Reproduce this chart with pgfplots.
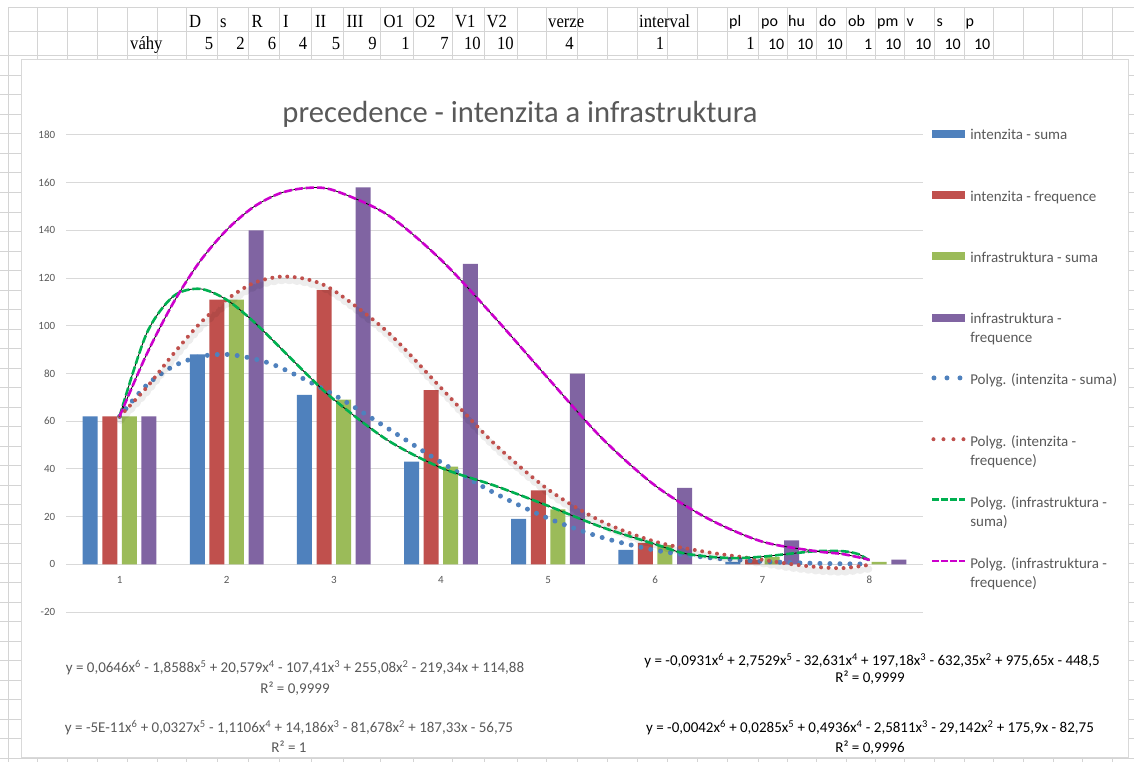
\documentclass[border=0pt]{standalone}
\usepackage{graphicx}
\usepackage{pgfplots}
\pgfplotsset{compat=1.18}
\usepackage{fontspec}
\setmainfont{Carlito}
\newfontfamily\cellserif{Liberation Serif}
\definecolor{cBlue}{HTML}{4F81BD}
\definecolor{cRed}{HTML}{C0504D}
\definecolor{cGreen}{HTML}{9BBB59}
\definecolor{cPurple}{HTML}{8064A2}
\definecolor{tGreen}{HTML}{00B050}
\definecolor{tMag}{HTML}{CC00CC}
\definecolor{txtg}{HTML}{595959}
\definecolor{gridc}{HTML}{D9D9D9}
\definecolor{cellc}{HTML}{D4D4D4}
\newcommand{\twol}[2]{\begin{tabular}[t]{@{}l@{}}#1\\#2\end{tabular}}
\newcommand{\ex}[1]{\textsuperscript{#1}}
\newcommand{\cserif}[1]{\scalebox{0.9}[1]{\cellserif\fontsize{18.5}{20}\selectfont #1}}
\newcommand{\csans}[1]{{\fontsize{16}{18}\selectfont #1}}

\begin{document}
\begin{tikzpicture}[x=1pt,y=1pt]
\path[use as bounding box] (0,0) rectangle (1134,-762);
% spreadsheet grid
\begin{scope}[draw=cellc, line width=1pt]
\foreach \x in {8,37,67,97,127,157,186,217,248,279,311,343,380,413,452,484,517,546,577,607,637,667,697,727,758,787,816,846,875,904,934,964,993,1023,1053,1082,1112}
  \draw (\x,-8) -- (\x,-762);
\draw (8,-8) -- (1134,-8);
\draw (8,-32) -- (1134,-32);
\foreach \i in {0,...,36} \draw (0,{-56-19.5*\i}) -- (1134,{-56-19.5*\i});
\end{scope}
% header rows
\begin{scope}[every node/.style={inner sep=0pt, anchor=base west}]
\foreach \x/\t in {189/D,220/s,251.5/R,283/I,315/II,346.5/III,383.5/O1,415/O2,455/V1,486.5/V2,548/verze,639/interval}
  \node at (\x,-27.3) {\cserif{\t}};
\foreach \x/\t in {729/pl,761/po,788/hu,819/do,848/ob,877/pm,906.5/v,936.5/s,965.5/p}
  \node at (\x,-26.7) {\csans{\t}};
\node at (130,-49.3) {\cserif{váhy}};
\end{scope}
\begin{scope}[every node/.style={inner sep=0pt, anchor=base east}]
\foreach \x/\t in {213.5/5,245/2,276.5/6,307.5/4,340.5/5,377/9,410/1,449/7,481/10,514/10,574/4,664.5/1,755/1}
  \node at (\x,-49.3) {\cserif{\t}};
\foreach \x/\t in {784.5/10,813.5/10,843/10,872.5/1,901.5/10,931.5/10,961/10,990.5/10}
  \node at (\x,-49.3) {\csans{\t}};
\end{scope}
% chart area
\draw[gridc, fill=white, line width=1pt] (21,-60) rectangle (1128,-757);
\node[anchor=base, inner sep=0pt, text=txtg, font=\fontsize{30.6}{36}\selectfont] at (520,-123) {precedence - intenzita a infrastruktura};

\begin{axis}[
  at={(66pt,-612pt)}, anchor=south west,
  scale only axis, width=857pt, height=477pt,
  xmin=0.5, xmax=8.5, ymin=-20, ymax=180,
  axis x line=middle, axis y line=left,
  axis line style={-},
  x axis line style={draw=gridc, line width=1.2pt},
  y axis line style={draw=none},
  xtick={1,...,8}, ytick={-20,0,20,...,180},
  major tick length=0pt,
  ymajorgrids, major grid style={draw=gridc, line width=1pt},
  /pgf/number format/assume math mode=true,
  tick label style={font=\fontsize{11}{13}\selectfont, text=txtg},
  yticklabel style={xshift=-7.3pt},
  xticklabel style={yshift=-8.3pt},
  legend style={at={(1.0093,1.0136)}, anchor=north west, draw=none, fill=none,
     inner sep=0pt, row sep=19.3pt, column sep=3.5pt,
     font=\fontsize{15}{19}\selectfont, text=txtg,
     nodes={inner sep=0pt, text height=11pt, text depth=31pt}},
  legend cell align=left,
]
\addplot[ybar, bar width=15pt, bar shift=-29.4pt, fill=cBlue, draw=none,
  legend image code/.code={\fill[cBlue] (0pt,12pt) rectangle (33pt,20pt);}]
  coordinates {(1,62)(2,88)(3,71)(4,43)(5,19)(6,6)(7,1)(8,0)};
\addlegendentry{intenzita - suma}
\addplot[ybar, bar width=15pt, bar shift=-9.8pt, fill=cRed, draw=none,
  legend image code/.code={\fill[cRed] (0pt,12pt) rectangle (33pt,20pt);}]
  coordinates {(1,62)(2,111)(3,115)(4,73)(5,31)(6,9)(7,2)(8,0)};
\addlegendentry{intenzita - frequence}
\addplot[ybar, bar width=15pt, bar shift=9.8pt, fill=cGreen, draw=none,
  legend image code/.code={\fill[cGreen] (0pt,12pt) rectangle (33pt,20pt);}]
  coordinates {(1,62)(2,111)(3,69)(4,41)(5,23)(6,8)(7,3)(8,1)};
\addlegendentry{infrastruktura - suma}
\addplot[ybar, bar width=15pt, bar shift=29.4pt, fill=cPurple, draw=none,
  legend image code/.code={\fill[cPurple] (0pt,12pt) rectangle (33pt,20pt);}]
  coordinates {(1,62)(2,140)(3,158)(4,126)(5,80)(6,32)(7,10)(8,2)};
\addlegendentry{\twol{infrastruktura -}{frequence}}
% trend: intenzita - suma
\addplot[smooth, cBlue, line width=5pt, line cap=round, dash pattern=on 0pt off 10pt,
  legend image code/.code={\draw[cBlue, line width=5pt, line cap=round, dash pattern=on 0pt off 13pt] (1.5pt,17pt) -- (28pt,17pt);}]
  coordinates {(1,62)(1.25,75)(1.5,83)(1.75,87.1)(2,88)(2.25,86.2)(2.5,82.5)(3,71.1)(3.5,57.1)(4,42.8)(4.5,29.9)(5,19.3)(5.5,11.3)(6,5.9)(6.5,2.8)(7,1.2)(7.5,0.4)(8,0.1)};
\addlegendentry{Polyg. (intenzita - suma)}
% trend: intenzita - frequence (shadow + dots)
\addplot[smooth, forget plot, black, opacity=0.07, line width=7pt, line cap=round, dash pattern=on 2pt off 5.5pt,
  transform canvas={shift={(1pt,-4pt)}}]
  coordinates {(1,62)(1.25,74)(1.5,88.1)(1.75,101)(2,111)(2.25,117.9)(2.5,120.6)(2.75,119.5)(3,114.8)(3.5,97.5)(4,74)(4.5,50.5)(5,31.4)(5.5,18)(6,9.5)(6.5,5)(7,1.9)(7.25,0.2)(7.5,-1.1)(7.75,-1.6)(8,-0.2)};
\addplot[smooth, cRed, line width=4pt, line cap=round, dash pattern=on 0pt off 7.5pt,
  legend image code/.code={\draw[cRed, line width=4pt, line cap=round, dash pattern=on 0pt off 10pt] (1pt,17pt) -- (32pt,17pt);}]
  coordinates {(1,62)(1.25,74)(1.5,88.1)(1.75,101)(2,111)(2.25,117.9)(2.5,120.6)(2.75,119.5)(3,114.8)(3.5,97.5)(4,74)(4.5,50.5)(5,31.4)(5.5,18)(6,9.5)(6.5,5)(7,1.9)(7.25,0.2)(7.5,-1.1)(7.75,-1.6)(8,-0.2)};
\addlegendentry{\twol{Polyg. (intenzita -}{frequence)}}
% trend: infrastruktura - suma
\addplot[smooth, forget plot, black, line width=0.8pt]
  coordinates {(1,62)(1.25,96.5)(1.5,112.3)(1.75,115.5)(2,110.9)(2.25,101.8)(2.5,90.8)(2.75,79.6)(3,69.1)(3.5,52.1)(4,40.5)(4.5,33)(5,24.5)(5.5,15.6)(6,8.4)(6.25,4.8)(6.5,3.2)(6.75,2.6)(7,3.2)(7.25,4.4)(7.5,5.5)(7.75,5.5)(7.9,4.2)(8,1.5)};
\addplot[smooth, tGreen, line width=2.6pt, dash pattern=on 8pt off 3pt,
  legend image code/.code={\draw[tGreen, line width=2.6pt, dash pattern=on 6.5pt off 2.5pt] (0pt,18pt) -- (33pt,18pt);}]
  coordinates {(1,62)(1.25,96.5)(1.5,112.3)(1.75,115.5)(2,110.9)(2.25,101.8)(2.5,90.8)(2.75,79.6)(3,69.1)(3.5,52.1)(4,40.5)(4.5,33)(5,24.5)(5.5,15.6)(6,8.4)(6.25,4.8)(6.5,3.2)(6.75,2.6)(7,3.2)(7.25,4.4)(7.5,5.5)(7.75,5.5)(7.9,4.2)(8,1.5)};
\addlegendentry{\twol{Polyg. (infrastruktura -}{suma)}}
% trend: infrastruktura - frequence
\addplot[smooth, forget plot, black, line width=0.8pt]
  coordinates {(1,62)(1.25,87.8)(1.5,109.5)(1.75,127)(2,140.2)(2.25,149.8)(2.5,155.6)(2.75,157.8)(3,156.8)(3.5,146.6)(4,127.7)(4.5,103.6)(5,78)(5.5,53)(6,33)(6.5,19)(7,9.5)(7.5,5.5)(7.75,4.3)(8,1.9)};
\addplot[smooth, tMag, line width=2.6pt, dash pattern=on 8pt off 3pt,
  legend image code/.code={\draw[tMag, line width=2.6pt, dash pattern=on 6.5pt off 2.5pt] (0pt,18pt) -- (33pt,18pt);}]
  coordinates {(1,62)(1.25,87.8)(1.5,109.5)(1.75,127)(2,140.2)(2.25,149.8)(2.5,155.6)(2.75,157.8)(3,156.8)(3.5,146.6)(4,127.7)(4.5,103.6)(5,78)(5.5,53)(6,33)(6.5,19)(7,9.5)(7.5,5.5)(7.75,4.3)(8,1.9)};
\addlegendentry{\twol{Polyg. (infrastruktura -}{frequence)}}
\end{axis}

% trendline equations
\begin{scope}[every node/.style={anchor=base, inner sep=0pt, font=\fontsize{15}{18}\selectfont}]
\node[text=txtg] at (295,-672.7) {y = 0,0646x\ex{6} - 1,8588x\ex{5} + 20,579x\ex{4} - 107,41x\ex{3} + 255,08x\ex{2} - 219,34x + 114,88};
\node[text=txtg] at (295,-693.5) {R² = 0,9999};
\node[text=txtg] at (289,-732.7) {y = -5E-11x\ex{6} + 0,0327x\ex{5} - 1,1106x\ex{4} + 14,186x\ex{3} - 81,678x\ex{2} + 187,33x - 56,75};
\node[text=txtg] at (289,-752.7) {R² = 1};
\node[text=black] at (872,-665.7) {y = -0,0931x\ex{6} + 2,7529x\ex{5} - 32,631x\ex{4} + 197,18x\ex{3} - 632,35x\ex{2} + 975,65x - 448,5};
\node[text=black] at (870,-682.7) {R² = 0,9999};
\node[text=black] at (870,-732.7) {y = -0,0042x\ex{6} + 0,0285x\ex{5} + 0,4936x\ex{4} - 2,5811x\ex{3} - 29,142x\ex{2} + 175,9x - 82,75};
\node[text=black] at (870,-752.7) {R² = 0,9996};
\end{scope}
\end{tikzpicture}
\end{document}
